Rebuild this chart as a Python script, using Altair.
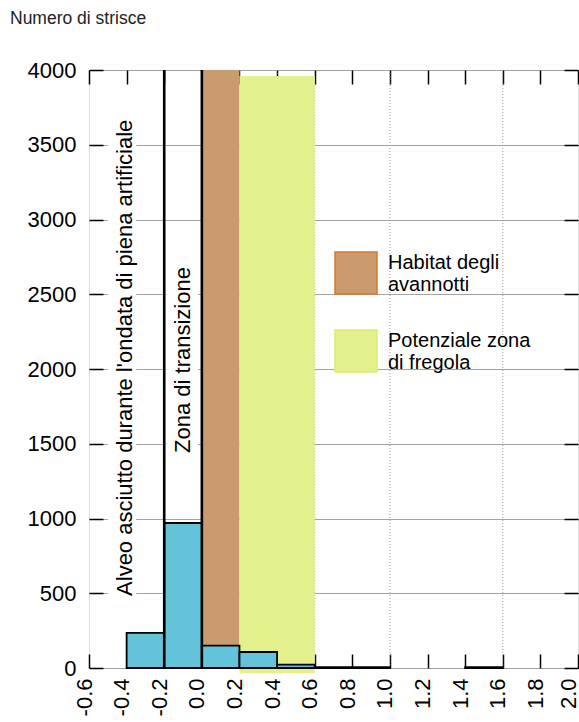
import altair as alt
import pandas as pd

FONT = "Liberation Sans"

# Histogram: number of strips per class
class_start = [-0.4, -0.2, 0.0, 0.2, 0.4, 0.6, 0.8, 1.4]
class_end = [-0.2, 0.0, 0.2, 0.4, 0.6, 0.8, 1.0, 1.6]
strip_count = [235, 970, 150, 107, 22, 6, 6, 6]

# Shaded zones (legend entries)
zone_names = ["Habitat degli\navannotti", "Potenziale zona\ndi fregola"]
zone_start = [0.0, 0.2]
zone_end = [0.2, 0.6]
zone_low = [0, -35]
zone_high = [4000, 3960]
zone_fill = ["#C99B6E", "#E4F08C"]
zone_edge = ["#D9782A", "#DDEB6E"]

# Thick boundary lines and dotted reference lines
boundary_x = [-0.2, 0.0]
ref_x = [0.4, 0.6, 1.0, 1.6]

# Axis ticks
x_ticks = [-0.6, -0.4, -0.2, 0.0, 0.2, 0.4, 0.6, 0.8, 1.0, 1.2, 1.4, 1.6, 1.8, 2.0]
y_ticks = [0, 500, 1000, 1500, 2000, 2500, 3000, 3500, 4000]

# Vertical annotations and the white boxes behind them
note_text = ["Alveo asciutto durante  l'ondata di piena artificiale", "Zona di transizione"]
note_x = [-0.41, -0.1]
note_y = [2075, 2060]
box_x0 = [-0.50, -0.19]
box_x1 = [-0.35, -0.02]
box_y0 = [420, 1380]
box_y1 = [3720, 2740]

bars_df = pd.DataFrame({"x0": class_start, "x1": class_end, "n": strip_count})
zones_df = pd.DataFrame({"zona": zone_names, "x0": zone_start, "x1": zone_end,
                         "y0": zone_low, "y1": zone_high})
bound_df = pd.DataFrame({"x": boundary_x, "y0": [0] * len(boundary_x), "y1": [4000] * len(boundary_x)})
ref_df = pd.DataFrame({"x": ref_x})
notes_df = pd.DataFrame({"t": note_text, "x": note_x, "y": note_y})
boxes_df = pd.DataFrame({"x0": box_x0, "x1": box_x1, "y0": box_y0, "y1": box_y1})

xs = alt.Scale(domain=[-0.6, 2.0], nice=False, zero=False)
ys = alt.Scale(domain=[0, 4000], nice=False, zero=False)

minus_fix = "replace(format(datum.value, '.1f'), '\u2212', '-')"

x_bottom = alt.Axis(orient="bottom", values=x_ticks, offset=-14, tickSize=14, tickWidth=1.5,
                    tickColor="black", domain=False, grid=False, labelAngle=270,
                    labelAlign="right", labelBaseline="middle", labelPadding=10,
                    labelOffset={"condition": {"test": "datum.value > 1.9", "value": -10},
                                 "value": -5},
                    labelFont=FONT, labelFontSize=22, labelColor="black",
                    labelExpr=minus_fix, labelOverlap=False, labelFlush=False, title=None)
y_left = alt.Axis(orient="left", values=y_ticks, offset=-14, tickSize=14, tickWidth=1.5,
                  tickColor="black", domain=False, grid=True, gridColor="#a3a3a3", gridWidth=1,
                  labelPadding=13, labelFont=FONT, labelFontSize=22, labelColor="black",
                  format="d", labelOverlap=False, labelFlush=False, title=None)
x_top = alt.Axis(orient="top", values=x_ticks, offset=-14, tickSize=14, tickWidth=1.5,
                 tickColor="black", domain=False, grid=False, labels=False, title=None)
y_right = alt.Axis(orient="right", values=y_ticks, offset=-14, tickSize=14, tickWidth=1.5,
                   tickColor="black", domain=False, grid=False, labels=False, title=None)

zone_legend = alt.Legend(title=None, orient="none", legendX=245, legendY=181,
                         symbolType="square", symbolSize=1764, symbolStrokeWidth=1.5,
                         symbolOpacity=1, labelFont=FONT, labelFontSize=20,
                         labelColor="black", labelOffset=10, labelLimit=400,
                         labelBaseline="bottom",
                         rowPadding=30, padding=0,
                         labelExpr="split(datum.label, '\\n')")

refs = alt.Chart(ref_df).mark_rule(color="#9a9a9a", strokeWidth=1, strokeDash=[1, 2]).encode(
    x=alt.X("x:Q", scale=xs, axis=None),
    y=alt.value(0),
    y2=alt.value(598),
)

zones = alt.Chart(zones_df).mark_rect(strokeWidth=0, opacity=1).encode(
    x=alt.X("x0:Q", scale=xs, axis=x_bottom),
    x2="x1:Q",
    y=alt.Y("y0:Q", scale=ys, axis=y_left),
    y2="y1:Q",
    fill=alt.Fill("zona:N", scale=alt.Scale(domain=zone_names, range=zone_fill), legend=zone_legend),
    stroke=alt.Stroke("zona:N", scale=alt.Scale(domain=zone_names, range=zone_edge), legend=zone_legend),
)

boxes = alt.Chart(boxes_df).mark_rect(fill="white", strokeWidth=0).encode(
    x=alt.X("x0:Q", scale=xs, axis=None),
    x2="x1:Q",
    y=alt.Y("y0:Q", scale=ys, axis=None),
    y2="y1:Q",
)

bars = alt.Chart(bars_df).mark_rect(fill="#63C3D8", stroke="black", strokeWidth=1.8).encode(
    x=alt.X("x0:Q", scale=xs, axis=None),
    x2="x1:Q",
    y=alt.Y("n:Q", scale=ys, axis=None),
    y2=alt.datum(0),
)

bounds = alt.Chart(bound_df).mark_rule(color="black", strokeWidth=2.6).encode(
    x=alt.X("x:Q", scale=xs, axis=x_top),
    y=alt.Y("y0:Q", scale=ys, axis=y_right),
    y2="y1:Q",
)

notes = alt.Chart(notes_df).mark_text(angle=270, font=FONT, fontSize=22, color="black",
                                      align="center", baseline="middle").encode(
    x=alt.X("x:Q", scale=xs, axis=None),
    y=alt.Y("y:Q", scale=ys, axis=None),
    text="t:N",
)

chart = alt.layer(refs, zones, boxes, bars, bounds, notes).resolve_axis(
    x="independent", y="independent"
).properties(
    width=489,
    height=598,
    autosize="none",
    padding={"left": 89, "top": 70, "right": 1, "bottom": 54},
    title=alt.TitleParams("Numero di strisce", anchor="start", frame="group", dx=-79,
                          offset=18, baseline="alphabetic", font=FONT, fontSize=17.5,
                          fontWeight="normal", color="#222"),
).configure_view(stroke="#222", strokeWidth=1.5).configure(background="white")

chart.save("out.html", embed_options={"renderer": "svg", "actions": False})
